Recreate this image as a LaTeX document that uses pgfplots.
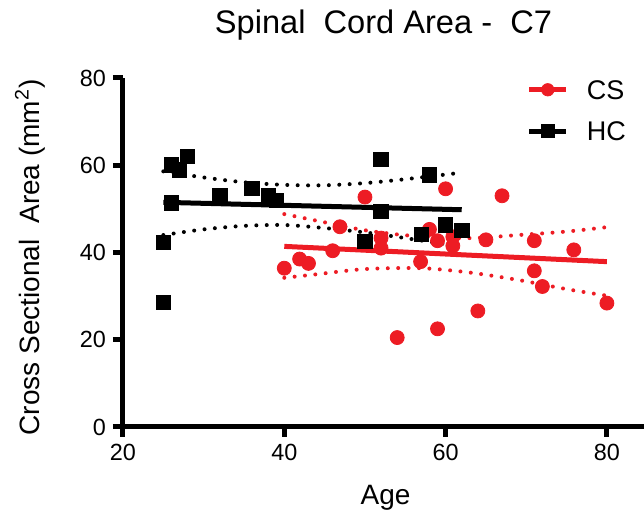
\documentclass[border=0pt]{standalone}
\usepackage{fontspec}
\setmainfont{Liberation Sans}
\usepackage{pgfplots}
\pgfplotsset{compat=1.18}
\definecolor{csred}{RGB}{237,28,36}

\begin{document}
\begin{tikzpicture}
\begin{axis}[
  at={(0,0)}, anchor=south west,
  scale only axis, width=260.5pt, height=174.5pt,
  xmin=20, xmax=84.6, ymin=0, ymax=80,
  axis lines=left,
  axis line style={-, line width=2.5pt, black},
  xtick={20,40,60,80}, ytick={0,20,40,60,80},
  tick align=outside, major tick length=5pt,
  tick style={line width=2.5pt, black},
  /pgf/number format/assume math mode=true,
  tick label style={font=\fontsize{11.7}{14}\selectfont},
  title={Spinal\ \ Cord Area -\ \ C7},
  title style={at={(axis description cs:0.5,1)}, anchor=base, yshift=16pt, font=\fontsize{16.3}{19}\selectfont},
  xlabel={Age},
  xlabel style={at={(axis description cs:0.504,0)}, anchor=base, yshift=-39pt, font=\fontsize{14}{17}\selectfont},
  ylabel={Cross Sectional\ \ Area (mm\textsuperscript{2})},
  ylabel style={at={(axis description cs:-0.1785,0.486)}, anchor=center, font=\fontsize{14}{17}\selectfont},
  legend style={draw=none, fill=none, inner sep=0pt, outer sep=0pt,
    at={(axis description cs:0.775,0.994)}, anchor=north west,
    font=\fontsize{13.5}{16}\selectfont, row sep=11pt, column sep=9pt,
    nodes={inner sep=0pt, outer sep=0pt, text height=9.7pt, text depth=0pt}},
  legend cell align=left,
  clip=false,
]
% confidence bands
\addplot[csred, line width=2pt, dash pattern=on 0pt off 5.2pt, line cap=round, smooth, forget plot]
  coordinates {(40,48.8)(44,47.3)(50,45.1)(56,43.8)(63,43.3)(69,44)(75,44.8)(80,45.8)};
\addplot[csred, line width=2pt, dash pattern=on 0pt off 5.2pt, line cap=round, smooth, forget plot]
  coordinates {(40,34.2)(44,35)(50,36.2)(57,36.4)(63,35.4)(69,33.7)(75,31.6)(80,30.1)};
\addplot[black, line width=2pt, dash pattern=on 0pt off 5.2pt, line cap=round, smooth, forget plot]
  coordinates {(25,58.6)(30,57.2)(35,56.1)(40,55.5)(45,55.4)(50,55.9)(55,56.8)(62,58.3)};
\addplot[black, line width=2pt, dash pattern=on 0pt off 5.2pt, line cap=round, smooth, forget plot]
  coordinates {(25,44)(30,45.3)(35,46.1)(40,46.3)(45,45.6)(50,44.6)(55,43.3)(62,41.3)};
% regression lines
\addplot[csred, line width=2.5pt, forget plot] coordinates {(40,41.4)(80,37.9)};
\addplot[black, line width=2.5pt, forget plot] coordinates {(25,51.5)(62,49.8)};
% CS
\addplot[only marks, mark=*, mark size=3.5pt, color=csred,
  legend image code/.code={\draw[csred, line width=2.5pt] (0pt,0pt) -- (18.5pt,0pt); \fill[csred] (9.25pt,0pt) circle (3.1pt);}]
  coordinates {
  (40,36.4)(41.9,38.5)(43,37.5)(46,40.4)(46.9,45.9)(50,52.7)(52,43.3)(52,41)
  (54,20.5)(56.9,37.9)(58,45.3)(59,42.7)(59,22.5)(60,54.6)(60.9,43.6)(60.9,41.5)
  (64,26.6)(65,42.9)(67,53)(71,42.7)(71,35.8)(72,32.2)(75.9,40.6)(80,28.4)};
\addlegendentry{CS}
% HC
\addplot[only marks, mark=square*, mark size=3.6pt, color=black,
  legend image code/.code={\draw[black, line width=2.5pt] (0pt,0pt) -- (18.5pt,0pt); \fill[black] (6.05pt,-3.2pt) rectangle (12.45pt,3.2pt);}]
  coordinates {
  (25,28.5)(25,42.3)(26,51.4)(26,60.1)(27,58.9)(28,62)(32,53)(36,54.7)
  (38,53)(39,52)(50,42.5)(52,61.4)(52,49.4)(57,44.2)(58,57.8)(60,46.3)(62,45)};
\addlegendentry{HC}
\end{axis}
\pgfresetboundingbox
\useasboundingbox (-61.5pt,-42.5pt) rectangle (260.5pt,213.5pt);
\end{tikzpicture}
\end{document}
